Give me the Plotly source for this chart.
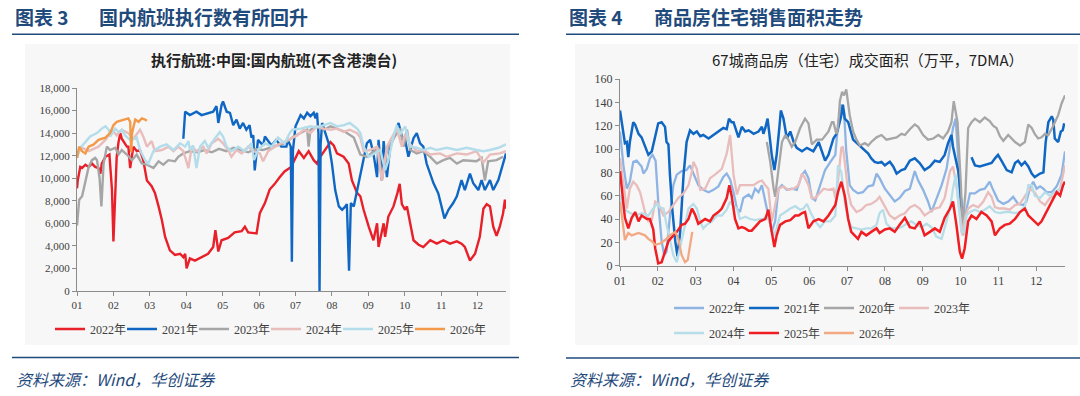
import plotly.graph_objects as go

# ---------------- Left chart: 执行航班 (domestic flights) ----------------
MONTH_TICKS = [1, 2, 3, 4, 5, 6, 7, 8, 9, 10, 11, 12]
MONTH_LABELS = ["01", "02", "03", "04", "05", "06", "07", "08", "09", "10", "11", "12"]

fl_2022_x = [1.00, 1.02, 1.09, 1.14, 1.23, 1.32, 1.41, 1.50, 1.59, 1.64, 1.68, 1.78, 1.89, 1.96, 2.00, 2.05, 2.09, 2.14, 2.19, 2.23, 2.32, 2.37, 2.41, 2.46, 2.51, 2.55, 2.64, 2.73, 2.82, 2.92, 3.05, 3.14, 3.24, 3.33, 3.42, 3.55, 3.69, 3.83, 3.92, 3.97, 4.01, 4.10, 4.24, 4.42, 4.60, 4.74, 4.80, 4.88, 4.97, 5.15, 5.33, 5.52, 5.61, 5.70, 5.93, 6.02, 6.16, 6.29, 6.43, 6.57, 6.70, 6.88, 7.09, 7.23, 7.36, 7.50, 7.59, 7.68, 7.82, 7.96, 8.05, 8.14, 8.32, 8.46, 8.55, 8.69, 8.78, 8.87, 9.01, 9.14, 9.24, 9.28, 9.42, 9.46, 9.55, 9.69, 9.80, 9.86, 9.92, 10.01, 10.06, 10.15, 10.24, 10.38, 10.51, 10.70, 10.88, 11.06, 11.24, 11.43, 11.56, 11.65, 11.74, 11.79, 11.93, 12.06, 12.16, 12.25, 12.34, 12.43, 12.52, 12.61, 12.70, 12.75, 12.78]
fl_2022_y = [9100, 9800, 11000, 10900, 11200, 11000, 11300, 11000, 10900, 10400, 11300, 11900, 12100, 9000, 4400, 9000, 11900, 13200, 14000, 13500, 13100, 12800, 12800, 10900, 12000, 12800, 12400, 12500, 11600, 9800, 9300, 8700, 7500, 6300, 4800, 3600, 3200, 3300, 3000, 3300, 2000, 2900, 2700, 3000, 3300, 3900, 5400, 3500, 4500, 4700, 5200, 5300, 5700, 5200, 5100, 6900, 7800, 9000, 9500, 10100, 10600, 11000, 12400, 11800, 12400, 11600, 11300, 11900, 12500, 13200, 12900, 12200, 11900, 11300, 9800, 8700, 8400, 7200, 5700, 4500, 6000, 3900, 6000, 4800, 6600, 7500, 8700, 9500, 7700, 7200, 7500, 6000, 4500, 4100, 3900, 4500, 4200, 4500, 4200, 4400, 4200, 3900, 3000, 2700, 3300, 4800, 7300, 7700, 7500, 5700, 4900, 5700, 6900, 8100, 7300]

fl_2021_x = [3.92, 3.97, 4.10, 4.28, 4.42, 4.60, 4.74, 4.83, 4.88, 4.97, 5.01, 5.11, 5.20, 5.29, 5.38, 5.47, 5.56, 5.65, 5.74, 5.79, 5.84, 5.88, 5.97, 6.11, 6.16, 6.34, 6.47, 6.61, 6.75, 6.79, 6.87, 6.90, 6.93, 7.00, 7.14, 7.23, 7.32, 7.41, 7.50, 7.55, 7.59, 7.63, 7.66, 7.69, 7.73, 7.82, 7.91, 8.00, 8.09, 8.19, 8.28, 8.37, 8.41, 8.47, 8.52, 8.60, 8.69, 8.78, 8.87, 8.96, 9.05, 9.14, 9.24, 9.28, 9.37, 9.42, 9.51, 9.60, 9.74, 9.83, 9.92, 10.01, 10.10, 10.24, 10.33, 10.42, 10.51, 10.60, 10.79, 10.92, 11.01, 11.09, 11.20, 11.33, 11.43, 11.56, 11.65, 11.79, 11.88, 12.02, 12.11, 12.20, 12.34, 12.43, 12.57, 12.70, 12.78]
fl_2021_y = [13500, 15900, 15600, 15900, 15600, 15800, 15900, 16400, 14900, 16500, 16800, 15900, 15800, 14700, 15200, 14400, 14900, 14300, 14700, 13600, 13800, 10700, 13400, 12900, 13700, 12900, 13400, 12800, 12800, 13400, 12800, 2600, 12500, 14600, 15600, 15300, 15800, 15500, 15800, 15300, 15800, 14000, 0, 13000, 14900, 14000, 13100, 11300, 8950, 7500, 7200, 7500, 7700, 1800, 7800, 7500, 8950, 10100, 11600, 13100, 13400, 12200, 10100, 13400, 9800, 13300, 10100, 12800, 14000, 14900, 13700, 13400, 11900, 13550, 14000, 13100, 12800, 11300, 9550, 8660, 7500, 6430, 7200, 7800, 8400, 9840, 8950, 10400, 9550, 8950, 9840, 8950, 9840, 8950, 9840, 11300, 12200]

fl_2023_x = [1.00, 1.06, 1.14, 1.23, 1.32, 1.41, 1.50, 1.55, 1.62, 1.67, 1.73, 1.82, 1.91, 2.05, 2.14, 2.23, 2.37, 2.51, 2.64, 2.78, 2.92, 3.10, 3.24, 3.37, 3.51, 3.69, 3.78, 3.92, 4.10, 4.30, 4.50, 4.70, 4.90, 5.10, 5.30, 5.50, 5.70, 5.90, 6.10, 6.30, 6.50, 6.70, 6.95, 7.14, 7.32, 7.36, 7.41, 7.59, 7.78, 7.96, 8.14, 8.37, 8.60, 8.78, 8.96, 9.14, 9.28, 9.37, 9.51, 9.78, 9.87, 9.97, 10.06, 10.15, 10.33, 10.51, 10.70, 10.88, 11.06, 11.24, 11.43, 11.61, 11.97, 12.11, 12.20, 12.29, 12.52, 12.70]
fl_2023_y = [5800, 8100, 8400, 9800, 11000, 11600, 11800, 11600, 10000, 7500, 11300, 12800, 12500, 12700, 12100, 12500, 12100, 11600, 12100, 11300, 11200, 10900, 11500, 11200, 11600, 11500, 11900, 12200, 12400, 12300, 12500, 12300, 12600, 12400, 12700, 12500, 12300, 12600, 12500, 12700, 12900, 13100, 13700, 14000, 14300, 12800, 14300, 14600, 14300, 14600, 14400, 14100, 13600, 12100, 11900, 12400, 12700, 9800, 12500, 14000, 14400, 12800, 14300, 12500, 12200, 12400, 11900, 11300, 11600, 11800, 11300, 11600, 11500, 11800, 9800, 11500, 11600, 11900]

fl_2024_x = [1.00, 1.14, 1.32, 1.59, 1.78, 1.96, 2.09, 2.23, 2.41, 2.55, 2.73, 2.82, 2.92, 3.05, 3.14, 3.33, 3.51, 3.65, 3.78, 3.92, 4.06, 4.15, 4.28, 4.47, 4.56, 4.70, 4.88, 5.01, 5.15, 5.24, 5.38, 5.52, 5.70, 5.84, 6.02, 6.11, 6.25, 6.43, 6.61, 6.79, 6.91, 7.05, 7.23, 7.41, 7.59, 7.78, 7.96, 8.14, 8.32, 8.49, 8.69, 8.78, 8.87, 9.05, 9.24, 9.37, 9.51, 9.65, 9.78, 9.92, 10.01, 10.15, 10.33, 10.51, 10.70, 10.97, 11.15, 11.43, 11.70, 11.97, 12.16, 12.34, 12.61, 12.78]
fl_2024_y = [12200, 12700, 12400, 12800, 13400, 14300, 13800, 14300, 14000, 13500, 14300, 13700, 12800, 13300, 12400, 12500, 12800, 12400, 12800, 12400, 10900, 12800, 12400, 12800, 12200, 13100, 13500, 13100, 12500, 11900, 12500, 12200, 12800, 12400, 12200, 11500, 12400, 12800, 13100, 13400, 13600, 13800, 14300, 14000, 14600, 14400, 14300, 14400, 14100, 14300, 14000, 13600, 12400, 12500, 12800, 9800, 12800, 13600, 14400, 12800, 13900, 13000, 12400, 12500, 12100, 12200, 11900, 12200, 12100, 12400, 11400, 12100, 12200, 12400]

fl_2025_x = [1.00, 1.09, 1.23, 1.36, 1.55, 1.68, 1.78, 1.87, 1.91, 2.05, 2.14, 2.23, 2.32, 2.46, 2.64, 2.73, 2.87, 2.96, 3.10, 3.28, 3.46, 3.65, 3.83, 3.97, 4.06, 4.10, 4.19, 4.28, 4.38, 4.51, 4.60, 4.79, 4.92, 5.01, 5.11, 5.24, 5.43, 5.61, 5.79, 5.86, 5.97, 6.16, 6.34, 6.52, 6.70, 6.84, 6.91, 7.14, 7.41, 7.59, 7.96, 8.14, 8.32, 8.49, 8.69, 8.78, 8.87, 9.01, 9.19, 9.33, 9.46, 9.55, 9.69, 9.78, 9.87, 10.01, 10.15, 10.33, 10.51, 10.70, 10.88, 11.15, 11.43, 11.70, 11.97, 12.16, 12.34, 12.57, 12.78]
fl_2025_y = [11800, 12700, 13200, 13700, 14000, 14400, 14600, 14300, 13700, 14400, 14100, 14300, 13800, 13400, 13600, 12500, 11600, 11300, 12400, 12800, 13000, 12500, 13100, 12800, 13300, 12500, 12900, 10900, 12800, 13300, 12700, 13500, 14100, 13700, 12800, 12400, 12800, 12400, 13100, 11600, 12500, 13100, 12800, 13600, 13100, 14000, 14300, 14400, 14600, 14500, 14900, 14600, 14700, 14900, 14400, 14000, 12800, 11900, 12200, 12500, 10700, 11600, 13700, 14700, 13900, 14600, 12800, 12700, 12500, 12700, 12500, 12700, 12500, 12700, 12500, 12400, 12500, 12700, 13000]

fl_2026_x = [1.00, 1.06, 1.14, 1.23, 1.32, 1.46, 1.59, 1.78, 1.91, 2.00, 2.09, 2.28, 2.41, 2.46, 2.49, 2.51, 2.60, 2.69, 2.78, 2.87, 2.92]
fl_2026_y = [11800, 12800, 12400, 12200, 12800, 13000, 13400, 13600, 14000, 14700, 15000, 15200, 15300, 15000, 12300, 14000, 15200, 15000, 15300, 15200, 15100]

FL_YTICKS = [0, 2000, 4000, 6000, 8000, 10000, 12000, 14000, 16000, 18000]

# ---------------- Right chart: 67城商品房成交面积 ----------------
hs_2022_x = [1.00, 1.09, 1.18, 1.26, 1.35, 1.44, 1.57, 1.62, 1.71, 1.79, 1.86, 1.94, 2.01, 2.10, 2.17, 2.23, 2.32, 2.41, 2.50, 2.63, 2.76, 2.85, 2.94, 3.07, 3.20, 3.34, 3.47, 3.60, 3.73, 3.82, 3.91, 4.00, 4.09, 4.17, 4.26, 4.40, 4.48, 4.57, 4.66, 4.75, 4.84, 4.92, 5.01, 5.10, 5.19, 5.28, 5.41, 5.54, 5.67, 5.81, 5.89, 5.98, 6.07, 6.16, 6.29, 6.42, 6.56, 6.69, 6.76, 6.85, 6.92, 6.98, 7.07, 7.16, 7.29, 7.42, 7.56, 7.69, 7.78, 7.86, 8.00, 8.13, 8.26, 8.39, 8.53, 8.66, 8.79, 8.88, 9.01, 9.14, 9.23, 9.36, 9.50, 9.63, 9.72, 9.80, 9.87, 9.94, 10.01, 10.07, 10.16, 10.25, 10.38, 10.51, 10.64, 10.77, 10.86, 10.99, 11.13, 11.26, 11.39, 11.52, 11.66, 11.74, 11.83, 11.92, 12.01, 12.10, 12.19, 12.27, 12.41, 12.54, 12.67, 12.76]
hs_2022_y = [115, 86, 66, 72, 89, 90, 85, 79, 83, 92, 95, 90, 55, 21, 9, 12, 43, 69, 78, 81, 82, 86, 79, 69, 65, 63, 65, 68, 76, 79, 74, 63, 49, 46, 58, 61, 58, 66, 63, 69, 55, 43, 29, 38, 66, 69, 65, 66, 65, 78, 81, 75, 58, 56, 69, 82, 89, 95, 121, 138, 132, 98, 69, 65, 62, 63, 68, 69, 79, 75, 66, 60, 55, 58, 64, 66, 81, 73, 65, 55, 46, 57, 69, 83, 101, 118, 126, 92, 40, 26, 49, 62, 62, 65, 66, 72, 65, 56, 53, 55, 59, 53, 52, 55, 66, 72, 66, 68, 66, 63, 63, 68, 78, 98]

hs_2021_x = [1.00, 1.06, 1.13, 1.18, 1.22, 1.26, 1.31, 1.35, 1.40, 1.49, 1.57, 1.66, 1.71, 1.75, 1.84, 1.93, 2.01, 2.10, 2.19, 2.23, 2.28, 2.32, 2.38, 2.46, 2.52, 2.59, 2.68, 2.76, 2.85, 2.94, 3.03, 3.12, 3.20, 3.34, 3.43, 3.51, 3.60, 3.73, 3.82, 3.88, 3.95, 4.00, 4.13, 4.22, 4.31, 4.40, 4.53, 4.66, 4.75, 4.79, 4.84, 4.90, 4.94, 5.01, 5.08, 5.14, 5.21, 5.25, 5.32, 5.41, 5.50, 5.59, 5.67, 5.81, 5.94, 6.11, 6.25, 6.38, 6.42, 6.51, 6.64, 6.72, 6.76, 6.85, 6.89, 6.94, 7.03, 7.16, 7.29, 7.38, 7.47, 7.56, 7.64, 7.73, 7.82, 7.91, 8.00, 8.13, 8.22, 8.31, 8.44, 8.53, 8.66, 8.79, 8.92, 9.05, 9.19, 9.32, 9.45, 9.58, 9.67, 9.76, 9.80, 9.94, 10.02, 10.07, 10.18, 10.29, 10.38, 10.51, 10.64, 10.82, 10.91, 10.99, 11.08, 11.22, 11.35, 11.44, 11.52, 11.61, 11.70, 11.79, 11.88, 11.96, 12.10, 12.19, 12.25, 12.32, 12.41, 12.45, 12.49, 12.58, 12.65, 12.70, 12.74]
hs_2021_y = [133, 118, 105, 106, 93, 106, 116, 123, 121, 113, 110, 103, 98, 95, 98, 110, 122, 123, 119, 106, 104, 78, 49, 21, 8, 29, 78, 106, 116, 113, 115, 111, 112, 109, 111, 113, 115, 118, 117, 126, 123, 123, 110, 119, 115, 116, 113, 115, 119, 113, 118, 126, 115, 95, 82, 95, 118, 133, 126, 109, 115, 106, 101, 98, 101, 98, 106, 93, 90, 95, 109, 113, 117, 129, 138, 126, 123, 108, 104, 101, 99, 96, 92, 89, 88, 89, 86, 89, 85, 79, 82, 83, 90, 92, 88, 82, 85, 90, 89, 95, 105, 112, 102, 81, 55, 32, None, 93, 86, 85, 86, 88, 92, 95, 90, 82, 80, 88, 90, 86, 89, 85, 79, 76, 79, 80, 106, 123, 128, 125, 109, 106, 115, 116, 122]

hs_2020_x = [4.88, 4.97, 5.06, 5.10, 5.19, 5.28, 5.37, 5.45, 5.54, 5.63, 5.76, 5.89, 5.98, 6.07, 6.20, 6.34, 6.51, 6.60, 6.64, 6.72, 6.76, 6.81, 6.87, 6.92, 6.98, 7.07, 7.16, 7.25, 7.34, 7.47, 7.56, 7.64, 7.78, 7.91, 8.04, 8.17, 8.31, 8.44, 8.53, 8.66, 8.79, 8.88, 9.01, 9.14, 9.28, 9.41, 9.54, 9.67, 9.76, 9.82, 9.92, 10.01, 10.05, 10.13, 10.20, 10.29, 10.38, 10.51, 10.64, 10.77, 10.86, 10.95, 11.04, 11.13, 11.26, 11.44, 11.57, 11.70, 11.79, 11.88, 11.96, 12.05, 12.14, 12.23, 12.32, 12.45, 12.58, 12.67, 12.76]
hs_2020_y = [106, 89, 66, 59, 83, 106, 112, 108, 102, 106, 118, 126, 122, 104, 108, 108, 115, 123, 123, 113, 118, 141, 149, 146, 151, 129, 115, 108, 103, 105, 103, 106, 110, 112, 108, 109, 110, 113, 112, 117, 121, 119, 112, 108, 109, 112, 109, 115, 123, 141, 123, 69, 32, 63, 118, 123, 126, 123, 127, 124, 120, 118, 111, 107, 112, 106, 103, 106, 121, 118, 113, 109, 110, 113, 112, 120, 129, 139, 146]

hs_2023_x = [1.00, 1.09, 1.18, 1.26, 1.35, 1.44, 1.53, 1.66, 1.75, 1.84, 1.93, 2.01, 2.15, 2.28, 2.41, 2.54, 2.68, 2.81, 2.90, 2.94, 3.03, 3.12, 3.25, 3.38, 3.51, 3.69, 3.82, 3.91, 4.00, 4.09, 4.17, 4.35, 4.53, 4.66, 4.75, 4.84, 4.92, 5.01, 5.10, 5.19, 5.32, 5.45, 5.59, 5.72, 5.81, 5.89, 5.98, 6.07, 6.16, 6.29, 6.38, 6.51, 6.64, 6.69, 6.76, 6.85, 6.89, 6.94, 7.03, 7.11, 7.25, 7.38, 7.51, 7.64, 7.78, 7.86, 8.00, 8.13, 8.26, 8.39, 8.53, 8.66, 8.79, 8.92, 9.05, 9.19, 9.32, 9.45, 9.58, 9.72, 9.80, 9.89, 9.98, 10.05, 10.11, 10.20, 10.33, 10.47, 10.60, 10.73, 10.82, 10.91, 11.04, 11.17, 11.30, 11.44, 11.57, 11.70, 11.83, 11.96, 12.10, 12.23, 12.36, 12.49, 12.63, 12.76]
hs_2023_y = [92, 69, 49, 66, 72, 69, 63, 46, 38, 39, 55, 53, 43, 46, 52, 58, 62, 69, 81, 89, 83, 65, 66, 75, 78, 83, 96, 112, 78, 61, 69, 69, 69, 72, 73, 69, 66, 38, 52, 66, 68, 65, 66, 69, 79, 75, 69, 58, 58, 63, 66, 65, 66, 58, 72, 101, 102, 89, 63, 52, 46, 48, 52, 53, 56, 59, 50, 43, 40, 43, 45, 50, 52, 49, 43, 46, 49, 50, 58, 81, 85, 69, 43, 26, 40, 49, 52, 50, 55, 63, 59, 50, 49, 49, 48, 52, 53, 60, 66, 63, 55, 52, 58, 60, 66, 86]

hs_2024_x = [1.00, 1.09, 1.22, 1.40, 1.57, 1.75, 1.88, 1.97, 2.06, 2.15, 2.23, 2.32, 2.41, 2.50, 2.59, 2.68, 2.81, 2.94, 3.03, 3.12, 3.20, 3.29, 3.43, 3.56, 3.69, 3.82, 3.91, 4.00, 4.09, 4.17, 4.31, 4.44, 4.57, 4.70, 4.79, 4.88, 4.97, 5.06, 5.14, 5.23, 5.37, 5.50, 5.63, 5.76, 5.85, 5.94, 6.03, 6.16, 6.29, 6.42, 6.56, 6.69, 6.72, 6.76, 6.85, 6.94, 7.03, 7.11, 7.25, 7.38, 7.51, 7.64, 7.78, 7.86, 7.95, 8.04, 8.17, 8.31, 8.44, 8.57, 8.70, 8.83, 8.97, 9.10, 9.23, 9.36, 9.50, 9.63, 9.72, 9.80, 9.87, 9.94, 10.02, 10.10, 10.16, 10.25, 10.38, 10.51, 10.64, 10.77, 10.91, 11.04, 11.17, 11.30, 11.44, 11.57, 11.70, 11.79, 11.88, 11.96, 12.10, 12.23, 12.36, 12.49, 12.63, 12.76]
hs_2024_y = [61, 49, 46, 43, 45, 43, 49, 53, 50, 49, 35, 21, 9, 3, 15, 29, 49, 53, 49, 38, 32, 35, 38, 43, 43, 48, 55, 51, 49, 40, 42, 40, 39, 40, 40, 43, 36, 26, 32, 43, 46, 49, 51, 48, 49, 53, 46, 38, 33, 38, 38, 43, 60, 86, 80, 55, 40, 33, 32, 31, 32, 32, 35, 45, 48, 36, 32, 32, 33, 36, 38, 35, 33, 36, 33, 25, 23, 38, 49, 66, 78, 55, 29, 29, 43, 46, 48, 46, 48, 51, 46, 45, 46, 46, 45, 46, 51, 69, 69, 60, 58, 63, 60, 63, 66, 72]

hs_2025_x = [1.00, 1.06, 1.13, 1.22, 1.31, 1.40, 1.49, 1.57, 1.71, 1.79, 1.88, 1.93, 2.01, 2.10, 2.19, 2.28, 2.41, 2.50, 2.63, 2.72, 2.81, 2.90, 2.98, 3.07, 3.16, 3.25, 3.38, 3.47, 3.60, 3.69, 3.82, 3.89, 3.95, 4.04, 4.13, 4.22, 4.31, 4.40, 4.48, 4.57, 4.70, 4.84, 4.92, 5.01, 5.08, 5.14, 5.23, 5.37, 5.50, 5.63, 5.72, 5.81, 5.89, 5.98, 6.11, 6.25, 6.38, 6.51, 6.64, 6.69, 6.76, 6.85, 6.94, 7.03, 7.11, 7.20, 7.29, 7.38, 7.51, 7.64, 7.78, 7.86, 8.00, 8.13, 8.26, 8.39, 8.53, 8.66, 8.79, 8.92, 9.05, 9.19, 9.32, 9.45, 9.58, 9.72, 9.80, 9.89, 9.98, 10.04, 10.11, 10.20, 10.29, 10.42, 10.55, 10.69, 10.82, 10.91, 11.04, 11.17, 11.30, 11.44, 11.57, 11.70, 11.79, 11.92, 12.05, 12.14, 12.27, 12.36, 12.45, 12.54, 12.63, 12.71, 12.76]
hs_2025_y = [81, 61, 41, 32, 41, 46, 38, 43, 40, 40, 31, 15, 2, 3, 12, 21, 26, 29, 35, 36, 40, 49, 44, 36, 38, 40, 38, 43, 46, 49, 58, 69, 60, 40, 32, 33, 32, 30, 30, 33, 38, 40, 48, 29, 16, 26, 35, 38, 39, 43, 43, 45, 46, 32, 38, 40, 38, 43, 49, 52, 63, 72, 60, 40, 29, 26, 23, 29, 26, 29, 32, 28, 31, 32, 29, 35, 41, 33, 32, 38, 26, 29, 32, 29, 41, 49, 55, 35, 12, 6, 15, 38, 43, 40, 46, 43, 38, 26, 32, 35, 36, 40, 46, 49, 43, 39, 35, 38, 46, 52, 58, 63, 60, 69, 72]

hs_2026_x = [1.00, 1.06, 1.13, 1.22, 1.31, 1.49, 1.66, 1.75, 1.84, 1.93, 2.06, 2.19, 2.32, 2.46, 2.54, 2.63, 2.72, 2.79, 2.85, 2.91]
hs_2026_y = [55, 38, 22, 28, 26, 28, 26, 23, 21, 18, 19, 22, 26, 29, 23, 9, 3, 5, 18, 29]

HS_YTICKS = [0, 20, 40, 60, 80, 100, 120, 140, 160]

# ---------------- styling ----------------
FONT = "Liberation Serif, Noto Sans CJK SC, serif"
CJK = "Noto Sans CJK SC, Liberation Serif, sans-serif"
NAVY = "#1F4A7C"
TICK = "#404040"
AXC = "#8C8C8C"

W, H = 1080, 396


def px(x):
    return x / W


def py(y):
    return 1 - y / H


fig = go.Figure()

left = [
    ("2022年", fl_2022_x, fl_2022_y, "#E8202A", 2.4),
    ("2021年", fl_2021_x, fl_2021_y, "#0F67C3", 2.4),
    ("2023年", fl_2023_x, fl_2023_y, "#A6A6A6", 2.4),
    ("2024年", fl_2024_x, fl_2024_y, "#E8BDBC", 2.4),
    ("2025年", fl_2025_x, fl_2025_y, "#B3DDEA", 2.4),
    ("2026年", fl_2026_x, fl_2026_y, "#F39A4A", 2.4),
]
right1 = [
    ("2022年", hs_2022_x, hs_2022_y, "#8EB4E3", 2.3),
    ("2021年", hs_2021_x, hs_2021_y, "#0F67C3", 2.5),
    ("2020年", hs_2020_x, hs_2020_y, "#A6A6A6", 2.3),
    ("2023年", hs_2023_x, hs_2023_y, "#E8BDBC", 2.3),
]
right2 = [
    ("2024年", hs_2024_x, hs_2024_y, "#B7DEE8", 2.3),
    ("2025年", hs_2025_x, hs_2025_y, "#F01E23", 2.5),
    ("2026年", hs_2026_x, hs_2026_y, "#F2A983", 2.3),
]

groups = [(left, "x", "y", "legend"), (right1, "x2", "y2", "legend2"), (right2, "x2", "y2", "legend3")]
for series, xa, ya, lg in groups:
    for name, xs, ys, c, w in series:
        fig.add_trace(go.Scatter(x=xs, y=ys, name=name, mode="lines",
                                 line=dict(color=c, width=w), xaxis=xa, yaxis=ya,
                                 legend=lg, connectgaps=False, hoverinfo="skip"))
    # empty, invisible spacer entry so the last legend label is not clipped
    fig.add_trace(go.Scatter(x=[None], y=[None], name=" ", mode="lines",
                             line=dict(color="rgba(0,0,0,0)", width=0), xaxis=xa, yaxis=ya,
                             legend=lg, hoverinfo="skip"))

axis_common = dict(showline=True, linecolor=AXC, linewidth=1, ticks="outside",
                   ticklen=4, tickcolor=AXC, showgrid=False, zeroline=False,
                   automargin=False)

fig.update_layout(
    width=W, height=H, autosize=False,
    margin=dict(l=0, r=0, t=0, b=0, pad=0, autoexpand=False),
    paper_bgcolor="white", plot_bgcolor="rgba(0,0,0,0)",
    font=dict(family=FONT, color=TICK),
    xaxis=dict(domain=[px(77), px(506)], range=[1, 12.78], tickvals=MONTH_TICKS,
               ticktext=MONTH_LABELS, tickfont=dict(size=11, color=TICK), anchor="y", **axis_common),
    yaxis=dict(domain=[py(291), py(88)], range=[0, 18000], tickvals=FL_YTICKS,
               tickformat=",", tickfont=dict(size=11, color=TICK), anchor="x", **axis_common),
    xaxis2=dict(domain=[px(620), px(1065)], range=[1, 12.76], tickvals=MONTH_TICKS,
                ticktext=MONTH_LABELS, tickfont=dict(size=12, color=TICK), anchor="y2", **axis_common),
    yaxis2=dict(domain=[py(265.7), py(79)], range=[0, 160], tickvals=HS_YTICKS,
                tickfont=dict(size=12, color=TICK), anchor="x2", **axis_common),
    legend=dict(orientation="h", x=px(50), xanchor="left", y=py(329), yanchor="middle",
                itemwidth=30, entrywidth=27, entrywidthmode="pixels",
                font=dict(size=12, family=FONT, color=TICK), bgcolor="rgba(0,0,0,0)"),
    legend2=dict(orientation="h", x=px(669), xanchor="left", y=py(308), yanchor="middle",
                 itemwidth=30, entrywidth=30, entrywidthmode="pixels",
                 font=dict(size=12, family=FONT, color=TICK), bgcolor="rgba(0,0,0,0)"),
    legend3=dict(orientation="h", x=px(669), xanchor="left", y=py(333), yanchor="middle",
                 itemwidth=30, entrywidth=30, entrywidthmode="pixels",
                 font=dict(size=12, family=FONT, color=TICK), bgcolor="rgba(0,0,0,0)"),
    showlegend=True,
)

shapes = [
    dict(type="rect", xref="paper", yref="paper", x0=px(25), x1=px(510), y0=py(345), y1=py(44),
         fillcolor="#F7F7F7", line=dict(width=0), layer="below"),
    dict(type="rect", xref="paper", yref="paper", x0=px(575), x1=px(1078), y0=py(345), y1=py(44),
         fillcolor="#F7F7F7", line=dict(width=0), layer="below"),
    dict(type="line", xref="paper", yref="paper", x0=px(12), x1=px(519), y0=py(34.3), y1=py(34.3),
         line=dict(color=NAVY, width=1.5)),
    dict(type="line", xref="paper", yref="paper", x0=px(566), x1=px(1080), y0=py(34.3), y1=py(34.3),
         line=dict(color=NAVY, width=1.5)),
    dict(type="line", xref="paper", yref="paper", x0=px(12), x1=px(519), y0=py(357.5), y1=py(357.5),
         line=dict(color=NAVY, width=1.5)),
    dict(type="line", xref="paper", yref="paper", x0=px(566), x1=px(1080), y0=py(358), y1=py(358),
         line=dict(color=NAVY, width=1.5)),
]
fig.update_layout(shapes=shapes)


def ann(text, x, y, size, color, anchor="left", bold=False, italic=False, family=CJK):
    t = text
    if bold:
        t = "<b>" + t + "</b>"
    if italic:
        t = "<i>" + t + "</i>"
    fig.add_annotation(text=t, x=px(x), y=py(y), xref="paper", yref="paper",
                       xanchor=anchor, yanchor="middle", showarrow=False,
                       font=dict(size=size, color=color, family=family))


ann("图表 3", 13, 16, 19, NAVY, bold=True)
ann("国内航班执行数有所回升", 97, 16, 19, NAVY, bold=True)
ann("图表 4", 567, 16, 19, NAVY, bold=True)
ann("商品房住宅销售面积走势", 652, 16, 19, NAVY, bold=True)
ann("执行航班:中国:国内航班(不含港澳台)", 274, 60, 15, "#222222", anchor="center", bold=True)
ann("67城商品房（住宅）成交面积（万平，7DMA）", 868, 60, 15, "#222222", anchor="center")
ann("资料来源：Wind，华创证券", 14, 379, 16, NAVY, italic=True)
ann("资料来源：Wind，华创证券", 568, 379, 16, NAVY, italic=True)

# remove the browser's default 8px page margin so the figure sits at the window origin
fig.write_html("out.html", config={"displayModeBar": False},
               post_script="document.body.style.margin='0px';")
